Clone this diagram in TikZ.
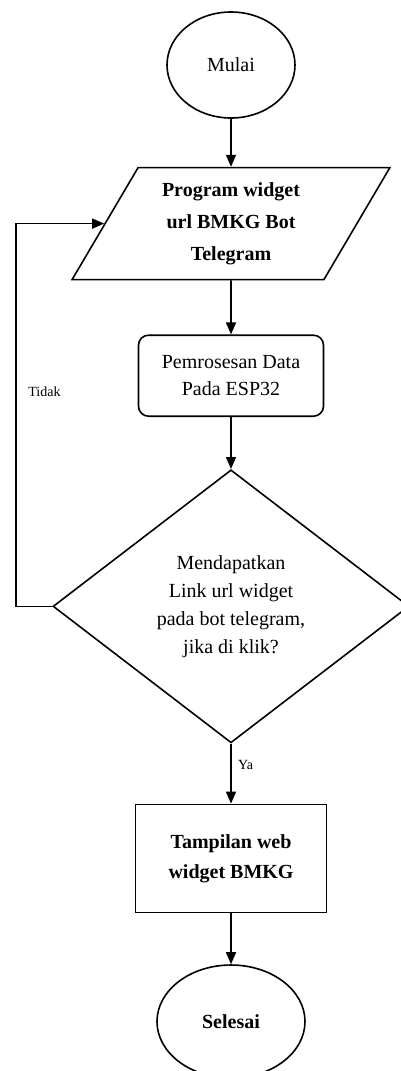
\documentclass[tikz,border=0pt]{standalone}
\usepackage{fontspec}
\setmainfont{Liberation Serif}
\usetikzlibrary{shapes.geometric,positioning,arrows.meta}

\tikzset{
  terminal/.style={ellipse,draw,line width=1.6pt,inner sep=0pt},
  io/.style={trapezium,trapezium left angle=60,trapezium right angle=120,
    trapezium stretches=true,draw,line width=1.6pt,align=center,
    font=\bfseries\fontsize{20}{32}\selectfont},
  proc/.style={rectangle,rounded corners=10pt,draw,line width=1.6pt,align=center,
    font=\fontsize{20}{27}\selectfont},
  box/.style={rectangle,draw,line width=1.6pt,align=center,
    font=\bfseries\fontsize{20}{30}\selectfont},
  decision/.style={diamond,draw,line width=1.6pt,align=center,inner sep=0pt},
  flow/.style={-{Triangle[length=12pt,width=10pt]},line width=1.6pt},
  lbl/.style={font=\fontsize{14}{14}\selectfont},
}

\begin{document}
\begin{tikzpicture}[font=\fontsize{20}{28}\selectfont]
  \useasboundingbox (0,0) rectangle (400pt,-1071pt);
  \node [terminal,minimum width=128pt,minimum height=106pt] (mulai) at (231pt,-65pt) {Mulai};
  \node [io,minimum width=319pt,minimum height=112pt,below=48pt of mulai] (prog)
    {Program widget\\url BMKG Bot\\Telegram};
  \node [proc,minimum width=185pt,minimum height=81pt,below=54pt of prog] (esp)
    {Pemrosesan Data\\Pada ESP32};
  \node [decision,minimum width=356pt,minimum height=273pt,below=52pt of esp] (cek)
    {Mendapatkan\\Link url widget\\pada bot telegram,\\jika di klik?};
  \node [box,minimum width=191pt,minimum height=108pt,below=60pt of cek] (web)
    {Tampilan web\\widget BMKG};
  \node [terminal,font=\bfseries\fontsize{20}{28}\selectfont,
    minimum width=148pt,minimum height=113pt,below=51pt of web] (selesai) {Selesai};

  \draw [flow] (mulai) -- (prog);
  \draw [flow] (prog) -- (esp);
  \draw [flow] (esp) -- (cek);
  \draw [flow] (cek) -- node [lbl,right=3pt,pos=0.35] {Ya} (web);
  \draw [flow] (web) -- (selesai);
  \draw [flow] (cek.west) -- ++(-36pt,0) |- node [lbl,right=8pt,pos=0.28] {Tidak} (prog.west);
\end{tikzpicture}
\end{document}
